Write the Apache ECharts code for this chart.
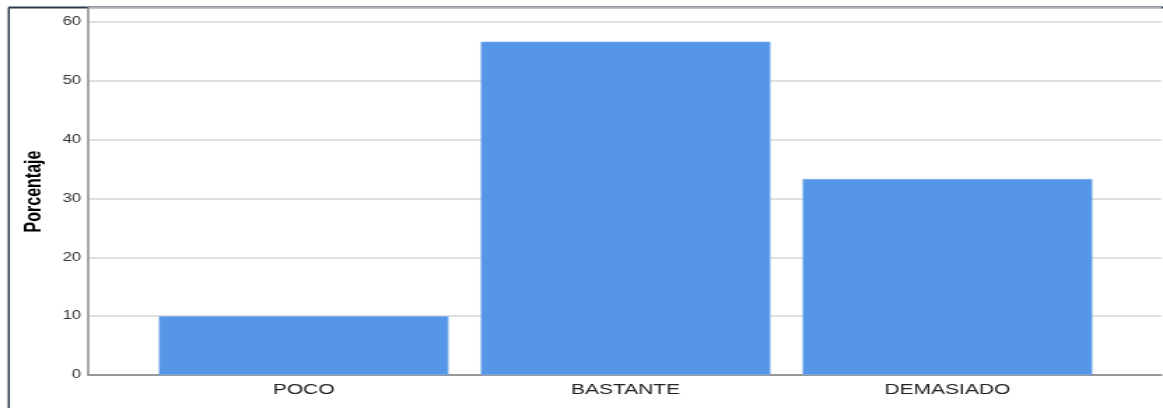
<!DOCTYPE html>
<html>
<head>
<meta charset="utf-8">
<script src="https://cdn.jsdelivr.net/npm/echarts@6/dist/echarts.min.js"></script>
<style>
  html, body { margin: 0; padding: 0; background: #fff; overflow: hidden; }
  /* the reference is stretched sideways, so draw narrow and scale up */
  #chart { width: 831px; height: 408px; transform: scaleX(1.3995); transform-origin: 0 0; }
</style>
</head>
<body>
<div id="chart"></div>
<script>
const categories = ['POCO', 'BASTANTE', 'DEMASIADO']
const percentages = [10, 56.67, 33.33]
const yMax = 62.4

const chart = echarts.init(document.getElementById('chart'))
const option = {
  animation: false,
  backgroundColor: '#fff',
  grid: [
    // outer grid: y axis, grid lines, baseline
    { left: 63, right: 1, top: 8, bottom: 33 },
    // inner grid: where the bars sit
    { left: 102, right: 39, top: 8, bottom: 33 }
  ],
  xAxis: [
    {
      gridIndex: 0,
      type: 'category',
      data: [''],
      axisLine: { show: true, lineStyle: { color: '#7f7f7f', width: 1.5 } },
      axisTick: { show: false },
      axisLabel: { show: false }
    },
    {
      gridIndex: 1,
      type: 'category',
      data: categories,
      axisLine: { show: false },
      axisTick: { show: false },
      axisLabel: { color: '#222', fontSize: 15, fontFamily: 'Liberation Sans, Arial', margin: 7 }
    }
  ],
  yAxis: [
    {
      gridIndex: 0,
      type: 'value',
      min: 0,
      max: yMax,
      interval: 10,
      name: 'Porcentaje',
      nameLocation: 'middle',
      nameGap: 30,
      nameTextStyle: { color: '#000', fontSize: 16, fontWeight: 'bold', fontFamily: 'Liberation Sans, Arial' },
      axisLine: { show: true, lineStyle: { color: '#8c8c8c', width: 1.5 } },
      axisTick: { show: false },
      axisLabel: { color: '#333', fontSize: 12, fontFamily: 'Liberation Sans, Arial', margin: 5, showMaxLabel: false },
      splitLine: { show: true, lineStyle: { color: '#d6d6d6', width: 1.5 } }
    },
    {
      gridIndex: 1,
      type: 'value',
      min: 0,
      max: yMax,
      show: false
    }
  ],
  series: [
    {
      type: 'bar',
      xAxisIndex: 1,
      yAxisIndex: 1,
      data: percentages,
      barWidth: '90%',
      itemStyle: { color: '#5596e6', borderColor: '#7fb0ee', borderWidth: 0.7 }
    }
  ],
  graphic: [
    { type: 'line', shape: { x1: 6.3, y1: 7.5, x2: 6.3, y2: 408 }, style: { stroke: '#2f3b4c', lineWidth: 1.5 } },
    { type: 'line', shape: { x1: 6, y1: 7.5, x2: 831, y2: 7.5 }, style: { stroke: '#2f3b4c', lineWidth: 2 } }
  ]
}
chart.setOption(option)
</script>
</body>
</html>
